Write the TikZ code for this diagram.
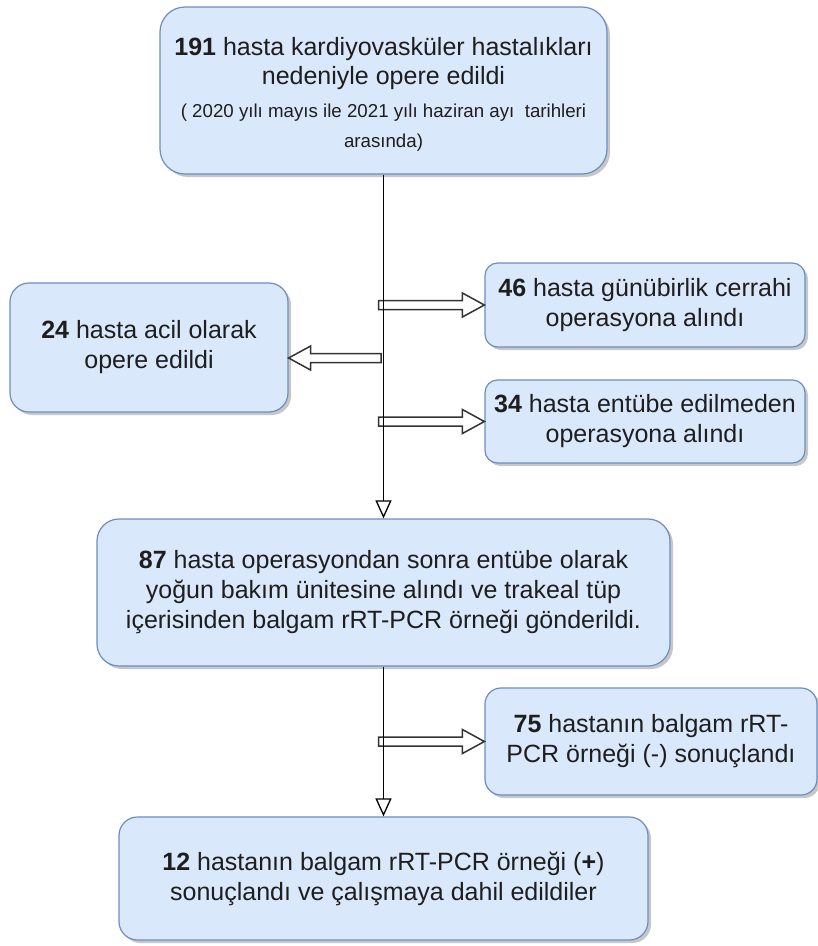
\documentclass[tikz,border=0pt]{standalone}
\usepackage{fontspec}
\setmainfont{Liberation Sans}
\usetikzlibrary{arrows.meta,shadows,calc}
\definecolor{boxfill}{HTML}{DAE8FC}
\definecolor{boxline}{HTML}{6C8EBF}
\definecolor{txt}{HTML}{1E1E1E}
\newcommand\flexarrowdraw[2]{%
  \draw[fa] let \p1=(#1), \p2=(#2), \p3=($(#2)!22pt!(#1)$) in
    (\x1,\y1+4.5pt) -- (\x3,\y1+4.5pt) -- (\x3,\y1+12pt) -- (\x2,\y1)
    -- (\x3,\y1-12pt) -- (\x3,\y1-4.5pt) -- (\x1,\y1-4.5pt) -- cycle;}
\begin{document}
\begin{tikzpicture}[x=1pt,y=-1pt,
  box/.style={draw=boxline, fill=boxfill, line width=1.2pt, inner sep=0pt,
    align=center, text=txt, font=\fontsize{25}{30}\selectfont,
    drop shadow={shadow xshift=3pt, shadow yshift=-3pt, opacity=0.22, fill=black}},
  lbl/.style={anchor=base, text=txt, inner sep=0pt},
  big/.style={font=\fontsize{25}{30}\selectfont},
  small/.style={font=\fontsize{18.7}{22}\selectfont},
  trunk/.style={draw=black, line width=1.3pt,
    -{Triangle[open, length=18pt, width=16pt, line width=1.3pt]}},
  fa/.style={draw=black!80, fill=white, line width=1.5pt, line join=miter},
]
\useasboundingbox (0,0) rectangle (818,946);

% boxes
\node[box, minimum width=447pt, minimum height=167pt, rounded corners=25pt] (b191) at (383.5,90.5) {};
\node[lbl, big] (t191a) at (383.5,55) {\textbf{191} hasta kardiyovasküler hastalıkları};
\node[lbl, big] (t191b) at (383.5,84) {nedeniyle opere edildi};
\node[lbl, small] (t191c) at (383.5,117) {( 2020 yılı mayıs ile 2021 yılı haziran ayı\ \ tarihleri};
\node[lbl, small] (t191d) at (383.5,147) {arasında)};

\node[box, minimum width=320pt, minimum height=84pt, rounded corners=12.6pt] (b46) at (645,305)
  {\textbf{46} hasta günübirlik cerrahi\\operasyona alındı};
\node[box, minimum width=278pt, minimum height=129pt, rounded corners=19pt] (b24) at (149,347.5)
  {\textbf{24} hasta acil olarak\\opere edildi};
\node[box, minimum width=320pt, minimum height=83pt, rounded corners=12.5pt] (b34) at (645,421.5)
  {\textbf{34} hasta entübe edilmeden\\operasyona alındı};
\node[box, minimum width=573pt, minimum height=147pt, rounded corners=22pt] (b87) at (383.5,592.5)
  {\textbf{87} hasta operasyondan sonra entübe olarak\\yoğun bakım ünitesine alındı ve trakeal tüp\\içerisinden balgam rRT-PCR örneği gönderildi.};
\node[box, minimum width=332pt, minimum height=107pt, rounded corners=16pt] (b75) at (651,741.5)
  {\textbf{75} hastanın balgam rRT-\\PCR örneği (-) sonuçlandı};
\node[box, minimum width=529pt, minimum height=123pt, rounded corners=18.5pt] (b12) at (383.5,878.5)
  {\textbf{12} hastanın balgam rRT-PCR örneği (\textbf{+})\\sonuçlandı ve çalışmaya dahil edildiler};

% junction points on the trunk
\coordinate (j46) at ($(b191.south |- b46.west)+(-5,0)$);
\coordinate (j24) at ($(b191.south |- b24.east)+(-2.5,10.5)$);
\coordinate (j34) at ($(b191.south |- b34.west)+(-5,0)$);
\coordinate (j75) at ($(b87.south |- b75.west)+(-5,0)$);

% side arrows
\flexarrowdraw{j46}{b46.west}
\flexarrowdraw{j24}{b24.east |- j24}
\flexarrowdraw{j34}{b34.west}
\flexarrowdraw{j75}{b75.west}

% trunk
\draw[trunk] (b191.south) -- (b87.north);
\draw[trunk] (b87.south) -- (b12.north);
\end{tikzpicture}
\end{document}
